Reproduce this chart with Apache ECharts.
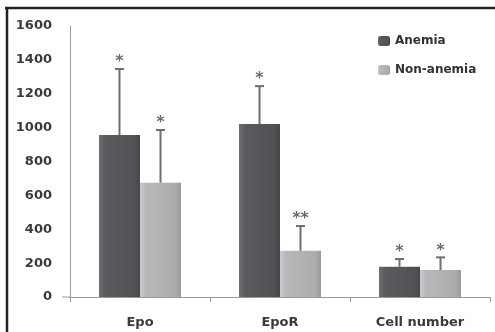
<!DOCTYPE html>
<html>
<head>
<meta charset="utf-8">
<script src="https://cdn.jsdelivr.net/npm/echarts@6/dist/echarts.min.js"></script>
<style>
html,body{margin:0;padding:0;background:#fff;}
#c{width:495px;height:332px;}
</style>
</head>
<body>
<div id="c"></div>
<script>
var categories = ['Epo', 'EpoR', 'Cell number'];
var seriesNames = ['Anemia', 'Non-anemia'];
var anemia = [956, 1021, 179];
var nonAnemia = [675, 273, 159];
var anemiaSD = [390, 224, 45];
var nonAnemiaSD = [311, 146, 75];
var anemiaStars = ['*', '*', '*'];
var nonAnemiaStars = ['*', '**', '*'];
var yTicks = [0, 200, 400, 600, 800, 1000, 1200, 1400, 1600];

var BAR_W = 41;
var font = 'DejaVu Sans';

function errSeries(name, vals, sds, stars, offset) {
  var data = vals.map(function (v, i) { return [i, v, v + sds[i], stars[i]]; });
  return {
    type: 'custom',
    name: name + ' err',
    z: 5,
    data: data,
    renderItem: function (params, api) {
      var i = api.value(0);
      var base = api.coord([i, api.value(1)]);
      var top = api.coord([i, api.value(2)]);
      var x = base[0] + offset;
      var star = data[params.dataIndex][3];
      return {
        type: 'group',
        children: [
          { type: 'line', shape: { x1: x, y1: base[1], x2: x, y2: top[1] },
            style: { stroke: '#6e6e6e', lineWidth: 2 } },
          { type: 'line', shape: { x1: x - 4.5, y1: top[1], x2: x + 4.5, y2: top[1] },
            style: { stroke: '#6e6e6e', lineWidth: 2 } },
          { type: 'text', style: { text: star, x: x, y: top[1] + 1, align: 'center', verticalAlign: 'bottom',
            font: 'bold 16px "' + font + '"', fill: '#6a6a6a' } }
        ]
      };
    }
  };
}

var chart = echarts.init(document.getElementById('c'));
chart.setOption({
  backgroundColor: '#fff',
  animation: false,
  grid: { left: 70, right: 5, top: 26, bottom: 35 },
  legend: {
    orient: 'vertical', left: 373, top: 30, itemGap: 17, itemWidth: 12, itemHeight: 10,
    data: seriesNames,
    textStyle: { fontFamily: font, fontWeight: 'bold', fontSize: 12, color: '#333' }
  },
  xAxis: {
    type: 'category', data: categories,
    axisLine: { lineStyle: { color: '#9a9a9a', width: 1 } },
    axisTick: { show: true, length: 5, lineStyle: { color: '#9a9a9a' } },
    axisLabel: { margin: 19, fontFamily: font, fontWeight: 'bold', fontSize: 13, color: '#3a3a3a' }
  },
  yAxis: {
    type: 'value', min: yTicks[0], max: yTicks[yTicks.length - 1], interval: 200,
    axisLine: { show: true, lineStyle: { color: '#9a9a9a', width: 1 } },
    axisTick: { show: false },
    splitLine: { show: false },
    axisLabel: { margin: 18, fontFamily: font, fontWeight: 'bold', fontSize: 13, color: '#3a3a3a',
      formatter: function (v) { return String(v); } }
  },
  series: [
    {
      name: seriesNames[0], type: 'bar', data: anemia, barWidth: BAR_W, barGap: '0%',
      itemStyle: {
        color: new echarts.graphic.LinearGradient(0, 0, 1, 0, [
          { offset: 0, color: '#6c6e71' }, { offset: 0.15, color: '#595b5e' },
          { offset: 0.85, color: '#505255' }, { offset: 1, color: '#45474a' }
        ])
      }
    },
    {
      name: seriesNames[1], type: 'bar', data: nonAnemia, barWidth: BAR_W,
      itemStyle: {
        color: new echarts.graphic.LinearGradient(0, 0, 1, 0, [
          { offset: 0, color: '#c9cacc' }, { offset: 0.15, color: '#b7b8ba' },
          { offset: 0.85, color: '#acadaf' }, { offset: 1, color: '#98999b' }
        ])
      }
    },
    errSeries(seriesNames[0], anemia, anemiaSD, anemiaStars, -BAR_W / 2),
    errSeries(seriesNames[1], nonAnemia, nonAnemiaSD, nonAnemiaStars, BAR_W / 2)
  ],
  graphic: [
    { type: 'line', shape: { x1: 5, y1: 8, x2: 495, y2: 8 }, style: { stroke: '#222', lineWidth: 2.5 } },
    { type: 'line', shape: { x1: 7, y1: 7, x2: 7, y2: 332 }, style: { stroke: '#222', lineWidth: 2.5 } },
    { type: 'line', shape: { x1: 62, y1: 297, x2: 70, y2: 297 }, style: { stroke: '#9a9a9a', lineWidth: 1 } }
  ]
});
</script>
</body>
</html>
